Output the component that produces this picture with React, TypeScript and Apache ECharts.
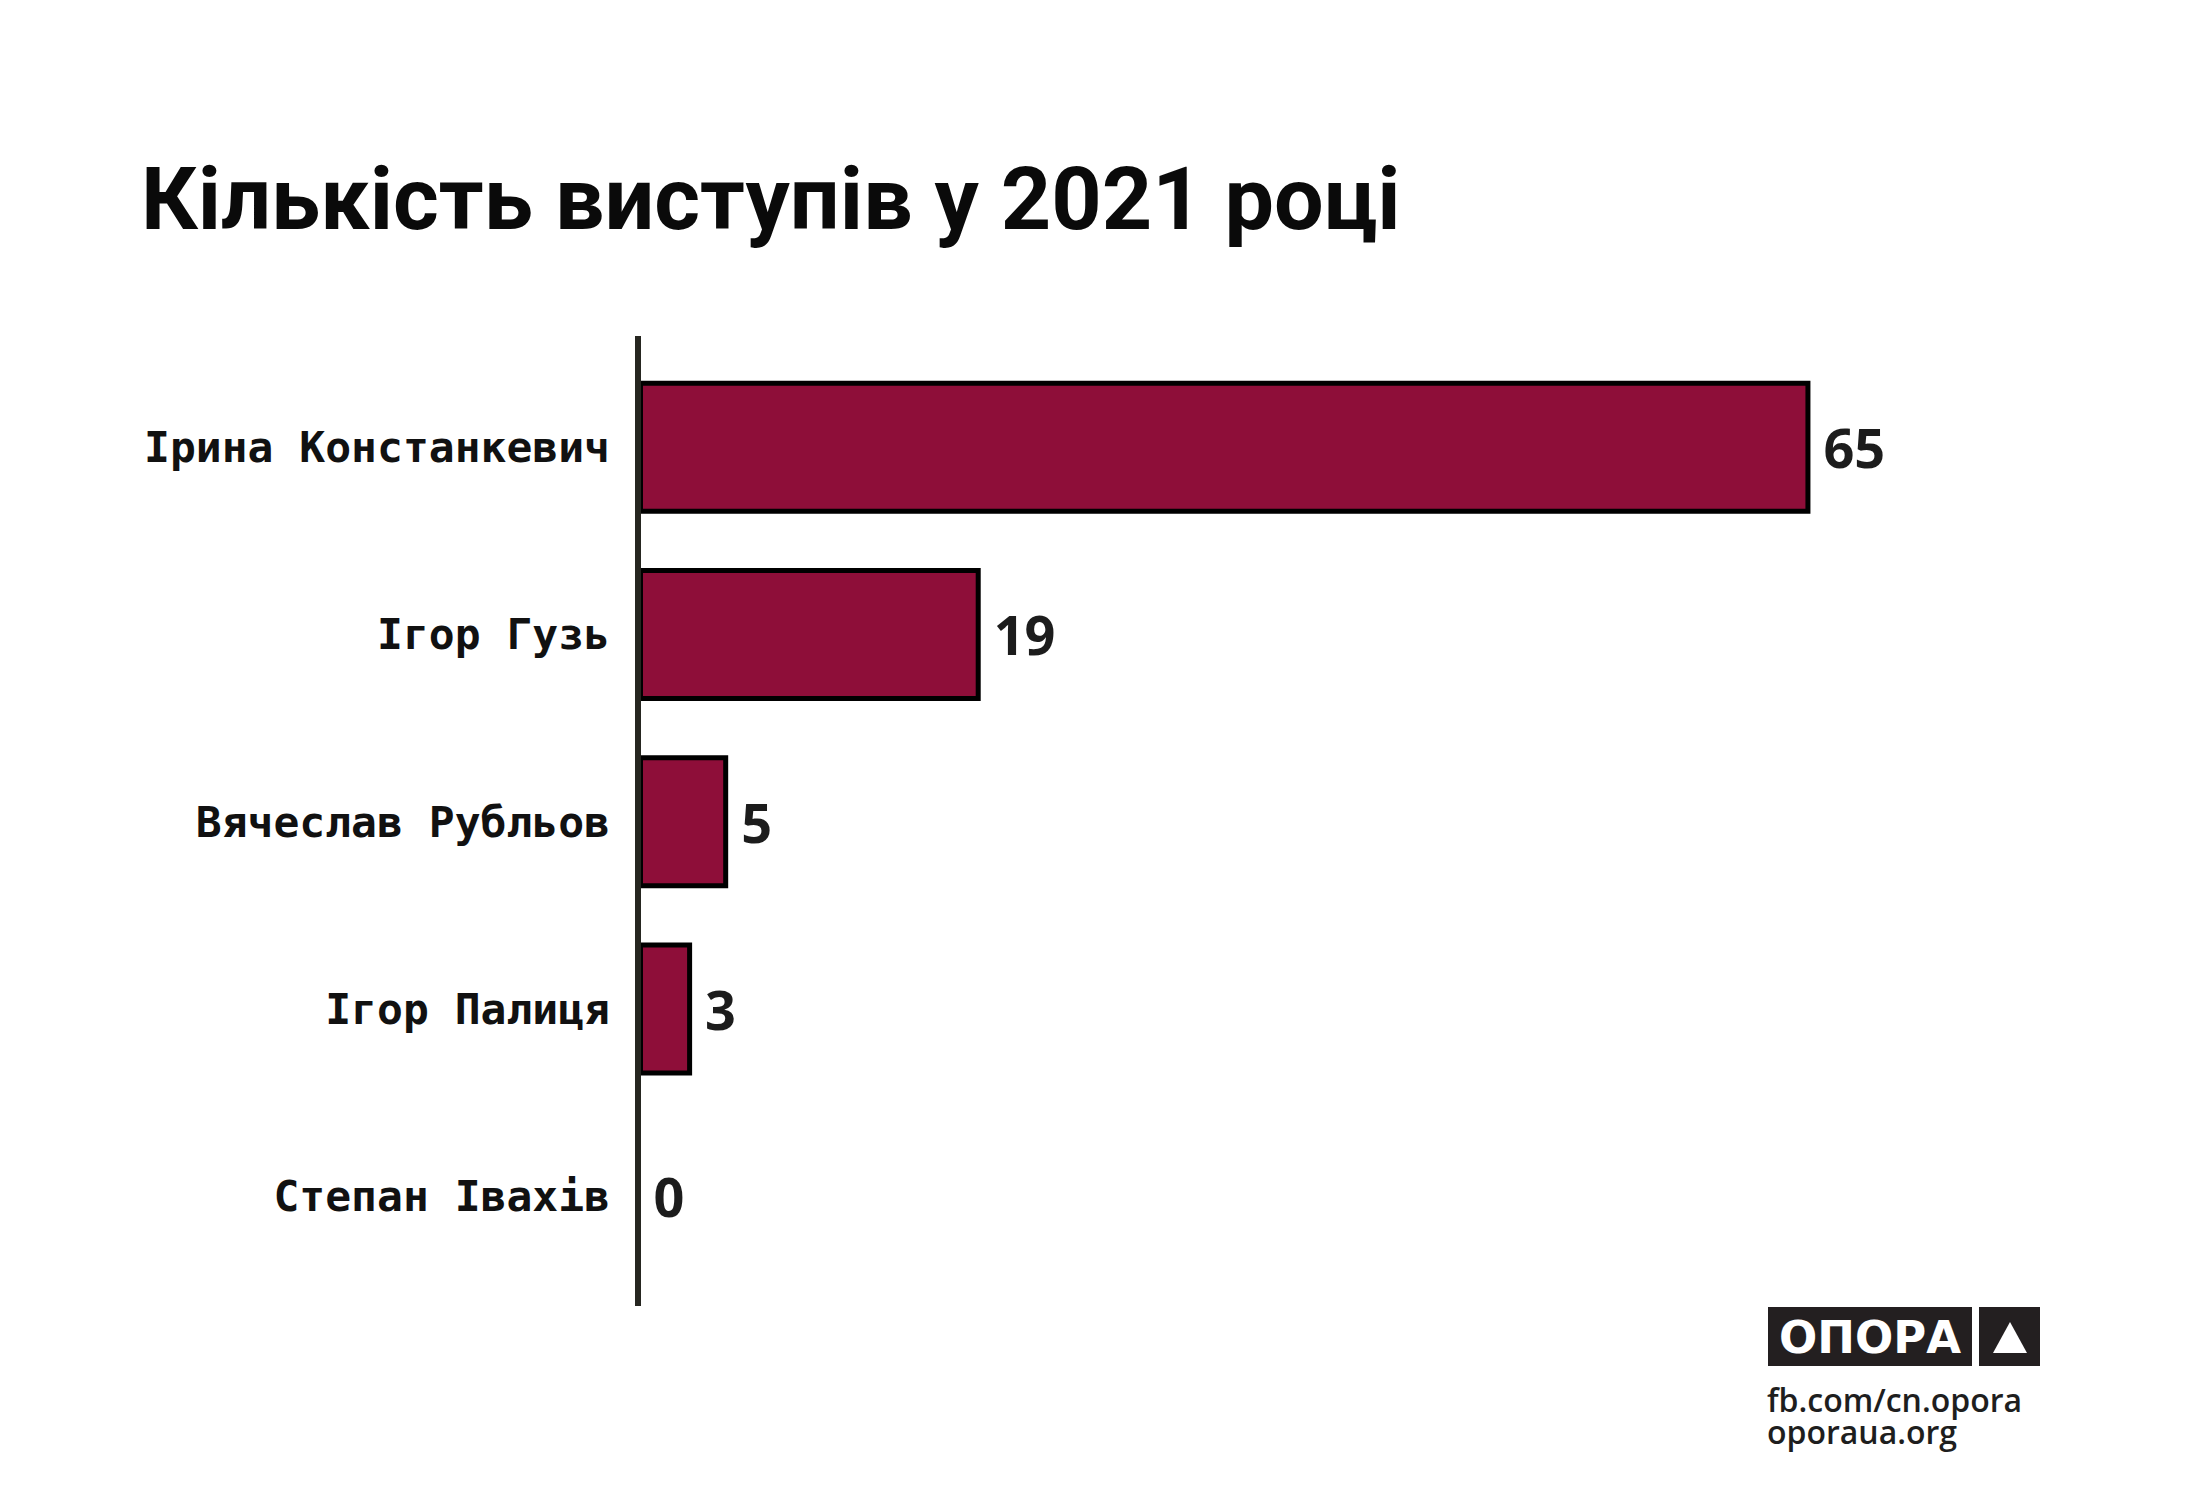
import React, { useEffect, useRef } from "react";
import * as echarts from "echarts";

const TITLE = "Кількість виступів у 2021 році";
const categories = [
  "Ірина Констанкевич",
  "Ігор Гузь",
  "Вячеслав Рубльов",
  "Ігор Палиця",
  "Степан Івахів",
];
const values = [65, 19, 5, 3, 0];
const footerLines = ["fb.com/cn.opora", "oporaua.org"];
const logoText = "ОПОРА";

export default function App() {
  const ref = useRef<HTMLDivElement>(null);
  useEffect(() => {
    document.body.style.margin = "0";
    const chart = echarts.init(ref.current!, null, { renderer: "svg" });
    const option = {
      animation: false,
      backgroundColor: "#ffffff",
      grid: { left: 638, right: 119, top: 353.5, bottom: 210, containLabel: false },
      xAxis: {
        type: "value",
        min: 0,
        max: 80,
        show: false,
        splitLine: { show: false },
      },
      yAxis: {
        type: "category",
        inverse: true,
        data: categories,
        axisLine: { show: false },
        axisTick: { show: false },
        splitLine: { show: false },
        axisLabel: {
          margin: 28,
          fontSize: 43,
          fontFamily: "DejaVu Sans Mono",
          fontWeight: "bold",
          color: "#111111",
        },
      },
      series: [
        {
          type: "bar",
          data: values,
          barCategoryGap: "29%",
          itemStyle: { color: "#8e0e39", borderColor: "#000000", borderWidth: 5 },
          label: {
            show: true,
            position: "right",
            distance: 13,
            fontSize: 54,
            fontFamily: "Open Sans",
            fontWeight: "bold",
            color: "#1c1c1c",
          },
        },
      ],
      graphic: [
        {
          type: "text",
          left: 141,
          top: 154,
          z: 10,
          style: {
            text: TITLE,
            fontFamily: "Roboto",
            fontWeight: "bold",
            fontSize: 88,
            fill: "#0a0a0a",
          },
        },
        {
          type: "line",
          z: 10,
          shape: { x1: 638, y1: 336, x2: 638, y2: 1306 },
          style: { stroke: "#262620", lineWidth: 6 },
        },
        {
          type: "rect",
          z: 10,
          shape: { x: 1768, y: 1307, width: 204, height: 59 },
          style: { fill: "#231f20" },
        },
        {
          type: "rect",
          z: 10,
          shape: { x: 1979, y: 1307, width: 61, height: 59 },
          style: { fill: "#231f20" },
        },
        {
          type: "polygon",
          z: 11,
          shape: { points: [[1993, 1353], [2027, 1353], [2010, 1322]] },
          style: { fill: "#ffffff" },
        },
        {
          type: "text",
          z: 11,
          x: 1870,
          y: 1337,
          style: {
            text: logoText,
            fontFamily: "DejaVu Sans",
            fontWeight: "bold",
            fontSize: 45,
            fill: "#ffffff",
            textAlign: "center",
            textVerticalAlign: "middle",
          },
        },
        {
          type: "text",
          z: 10,
          x: 1767,
          y: 1415,
          style: {
            text: footerLines.join("\n"),
            fontFamily: "Open Sans",
            fontWeight: 600,
            fontSize: 32,
            lineHeight: 32,
            fill: "#1e1e1e",
            textAlign: "left",
            textVerticalAlign: "middle",
          },
        },
      ],
    };
    chart.setOption(option);
    return () => chart.dispose();
  }, []);
  return <div ref={ref} style={{ width: 2200, height: 1500 }} />;
}
